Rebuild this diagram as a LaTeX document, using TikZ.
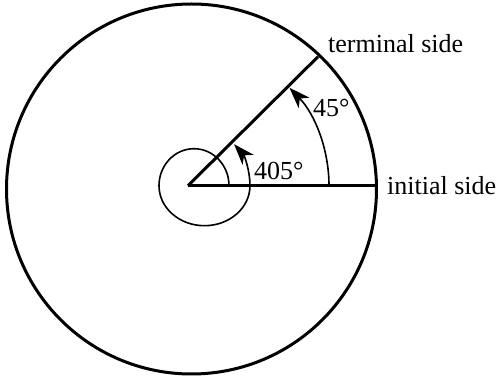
\documentclass[tikz,border=0pt]{standalone}
\usepackage{fontspec}
\setmainfont{Liberation Serif}
\usetikzlibrary{arrows.meta,positioning}

\begin{document}
\begin{tikzpicture}[
x=1pt, y=1pt,
sideline/.style={line width=3pt},
anglearc/.style={line width=1.6pt, -{Stealth[length=21pt,width=15pt,inset=6pt]}},
sidelabel/.style={inner sep=0pt, font=\fontsize{26}{30}\selectfont},
]
\useasboundingbox (-188,-191.3) rectangle (310,185.7);

%Nodes
\coordinate (vertex) at (0,0);
\coordinate (centre) at (3.5,-3.3);
\coordinate (terminal) at (130,129);
\coordinate (initial) at (189,0);
\node[sidelabel]                   (terminallabel) [above right=4pt and 10pt of terminal] {terminal side};
\node[sidelabel]                   (initiallabel)  [right=10pt of initial]                {initial side};
\node[sidelabel, anchor=base west] (smallangle)    at (125,69)                            {45°};
\node[sidelabel, anchor=base west] (bigangle)      at (66,6)                              {405°};

%Lines
\draw[sideline] (centre) circle (185);
\draw[sideline] (vertex) -- (terminal);
\draw[sideline] (vertex) -- (initial);

%Angles
\draw[anglearc] (141,0) arc (0:44:141);
\draw[anglearc] (41,0) arc[start angle=0, end angle=180, x radius=35, y radius=37]
  arc[start angle=180, end angle=360, x radius=45.5, y radius=40]
  arc[start angle=0, end angle=42, radius=62];
\end{tikzpicture}
\end{document}
